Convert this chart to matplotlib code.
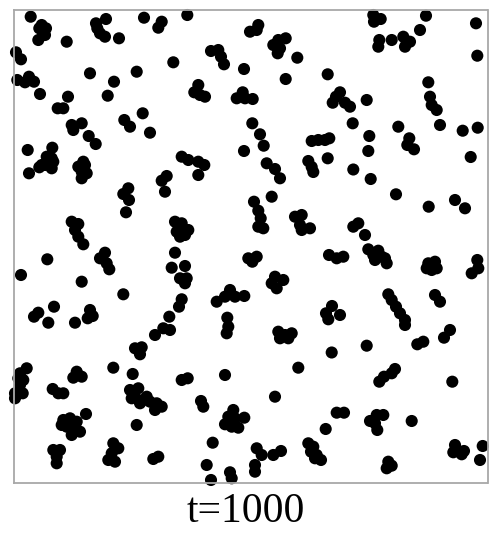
import matplotlib
matplotlib.use("Agg")
import matplotlib.pyplot as plt

# particle positions (frame spans x 14..487.5, y 10..483.5, y down)
x_pos = [
    30.7, 41.7, 39.3, 46, 43.3, 38.3, 45, 66.7, 96, 97.3, 100, 105, 106, 119, 144, 161.7, 158.3,
    16, 21, 173.3, 17.3, 25, 29, 34, 90, 114, 136.7, 40, 68, 107.7, 57.7, 63.3, 142.7,
    71.7, 73.3, 81.7, 124.3, 130, 88.7, 95.7, 150, 27.7,
    52.3, 46.7, 51.7, 53.3, 41.7, 45, 51.7, 39.3,
    83.3, 78.3, 85, 81.7, 86.7, 81.7,
    187.3, 250, 258.3, 256.7, 273.3, 278.3, 285.7, 277.7, 280, 297.3,
    211, 218.3, 221, 224, 244, 285.7, 327.7,
    198.3, 194.3, 200, 205, 236.7, 242.7, 245, 252.7,
    252.3, 260, 263.7, 244, 311.7, 318.3, 325, 329.3,
    181.7, 188.3, 198.3, 204.3, 198.3, 266.7, 275, 280, 308.3, 311.7, 313.3, 327.7,
    373.3, 374, 380.7, 426, 476, 420,
    379.3, 378.3, 391.7, 403.3, 406.7, 410, 405, 477.3, 428.3,
    340, 336, 332.7, 345, 350, 366.7, 430, 431.7, 436.7,
    352.7, 398.3, 440, 462.7, 477.7, 369.3, 368.3, 409.3, 407.3, 414, 353.3, 470.7,
    29, 128.3, 123.3, 129, 126, 166.7, 161.7, 165,
    71.7, 78.3, 75, 78.3, 83.3, 47.3, 105, 100, 106.7, 109.3, 21, 81.7, 123.3,
    54, 38.3, 34, 90, 92.7, 87.7, 75, 48.3, 169.3,
    254, 258.3, 260.7, 258.3, 263.3, 271.7, 295, 301.7, 300, 301.7, 310,
    175, 181.7, 176.7, 180, 188.3, 185, 180, 175, 171.7,
    185, 180, 186.7, 185, 248.3, 256.7, 252.3,
    275, 283.3, 271.7, 276.7, 329, 216.7, 225, 230, 235, 244.3, 181.7, 179, 227.3,
    370.7, 396, 428.7, 455, 465, 353.3, 358.3, 365, 336.7, 343.3,
    368.3, 373.3, 378.3, 381.7, 386.7, 375, 385,
    428.3, 435, 431.7, 426.7, 436.7, 477.3, 478.3, 471.7,
    388.3, 391.7, 396, 400, 405, 405, 435, 440,
    332, 326, 340, 328.3,
    163.3, 170, 155, 135, 141.7, 140, 113.3, 132.7,
    26.7, 20, 18.3, 23.3, 20, 15, 22.7, 15,
    76.7, 73.3, 81.7, 52.7, 58.3, 63.3,
    130, 138.3, 135, 140, 146.7, 150, 156.7, 161.7, 155, 143.3, 131.7,
    86, 63.3, 70, 76.7, 66.7, 73.3, 80, 71.7, 61.7, 136.7,
    53.3, 60, 56.7, 56.7, 113.3, 118.3, 111.7, 108.3, 115, 153.3, 158.3,
    228.3, 226.7, 278.3, 285, 291.7, 280, 288.3, 298.3, 181.7, 187.7, 225,
    201, 203.3, 275, 233.3, 228.3, 225, 231.7, 238.3, 244.3, 235, 325.7, 212.7,
    256.7, 261.7, 273.3, 281, 308.3, 313.3, 311, 316.7, 321, 315,
    206.7, 255, 255, 230, 231.7, 211,
    450, 444, 423.3, 417.3, 366.7, 331.7, 395, 391.7, 384, 379.3, 452.3,
    336.7, 344, 370, 376.7, 383.3, 375, 377.3, 411.7,
    455, 453.3, 460, 464, 461.7, 482.7, 480, 388.3, 391.7, 386.7,
]
y_pos = [
    16.7, 25, 28.3, 28.3, 33.3, 40, 35, 41.7, 23.3, 28.3, 33.3, 36.7, 19, 38.3, 17.7, 21.7, 27.7,
    52.3, 59.3, 62.3, 80, 82.3, 76.7, 81.7, 73.3, 81.7, 71.7, 94, 96.7, 95.7, 108.3, 108.3, 113.3,
    125, 130, 123.3, 120, 126.7, 136, 144, 132.7, 150,
    147.7, 156.7, 158.3, 161.7, 165, 165, 168.3, 167.3,
    161.7, 166.7, 165, 171.7, 173.3, 178.3,
    15, 31.7, 25, 30, 45, 40, 38.3, 53.3, 48.3, 57.7,
    51, 50, 56.7, 64.3, 69, 79, 74.3,
    85, 92.3, 95, 96.7, 98.3, 92.3, 98.3, 99,
    123.3, 134.3, 145.7, 151, 141, 140, 140, 138.3,
    156.7, 160, 161.7, 165, 175, 163.3, 169, 178.3, 161, 167, 172, 158.3,
    15, 21.7, 19, 15.7, 23.3, 30,
    40, 46.7, 40, 36.7, 41.7, 41.7, 46.7, 55.7, 82.3,
    92.3, 96.7, 102.7, 102.7, 106.7, 100, 96.7, 105, 110,
    123.3, 126.7, 125, 130.7, 127.7, 136, 151, 138.3, 145, 149.3, 169.5, 157,
    173.3, 188.3, 194, 200, 212.3, 176, 180.7, 191.7,
    221.7, 224, 230, 236.7, 244.3, 259.3, 252.7, 258.3, 263.3, 269.3, 275, 281.7, 294.3,
    306.7, 312.7, 316.7, 310, 316, 318.3, 322.7, 322.7, 316.7,
    201.7, 210.7, 218.3, 226.7, 228.3, 196.7, 216.7, 215, 225, 230, 228.3,
    221.7, 223.3, 231.7, 236.7, 230, 235, 228.3, 252.7, 267.7,
    266, 278.3, 278.3, 283.3, 258.3, 256.7, 261.7,
    276.7, 280, 283.3, 288.3, 255, 301.7, 296.7, 290, 296.7, 296, 299.3, 306.7, 317.7,
    179, 194.3, 206.7, 200, 208.3, 226.7, 223.3, 235, 258.3, 256.7,
    249.3, 255, 250.7, 256.7, 263.3, 260, 258.3,
    263.3, 261.7, 270, 268.3, 268.3, 260, 268.3, 273.3,
    294.3, 300, 306.7, 313.3, 320, 325, 295, 301.7,
    306, 313.3, 315, 319.3,
    328.3, 330, 335, 348.3, 347.3, 354.3, 367.7, 374,
    368.3, 373.3, 378.3, 380, 385, 393.3, 393.3, 398.3,
    371.7, 377.7, 376.7, 389, 393.3, 393.3,
    390, 388.3, 396.7, 403.3, 396.7, 401.7, 403.3, 406.7, 410, 400, 398.3,
    414, 420, 418.3, 421.7, 426.7, 428.3, 431.7, 435, 425, 425,
    450, 450, 456.7, 463.3, 443.3, 448.3, 453.3, 460, 461.7, 459, 456.7,
    326.7, 333.3, 331.7, 335, 333.3, 338.3, 338.3, 367.7, 380, 378.3, 375,
    401, 406.7, 396.7, 410, 416.7, 424.3, 426.7, 427.7, 417.7, 418.3, 429, 442.7,
    448.3, 455, 455, 451, 443.3, 446.7, 451.7, 455, 460, 458.3,
    465, 465, 471.7, 472.3, 478.3, 480,
    330, 337.7, 341.7, 344.3, 345.7, 352.5, 369, 373.3, 376.7, 381.7, 381.7,
    412.7, 412.7, 421, 415, 415, 423.3, 430, 421,
    445, 452.3, 451.7, 451, 454.3, 446, 460, 461.7, 465.7, 468.3,
]
caption = "t=1000"

fig = plt.figure(figsize=(5.0, 5.53), dpi=100)
ax = fig.add_axes([0.028, 0.1257, 0.947, 0.8562])

ax.scatter(x_pos, y_pos, s=76, c="black", edgecolors="none", clip_on=False)

ax.set_xlim(14, 487.5)
ax.set_ylim(483.5, 10)
ax.set_xticks([])
ax.set_yticks([])
for sp in ax.spines.values():
    sp.set_color("#a8a8a8")
    sp.set_linewidth(1.3)

fig.text(0.492, 0.074, caption, ha="center", va="center",
         fontsize=30, family=["Liberation Serif", "DejaVu Serif"])

fig.savefig("out.png", dpi=100)
